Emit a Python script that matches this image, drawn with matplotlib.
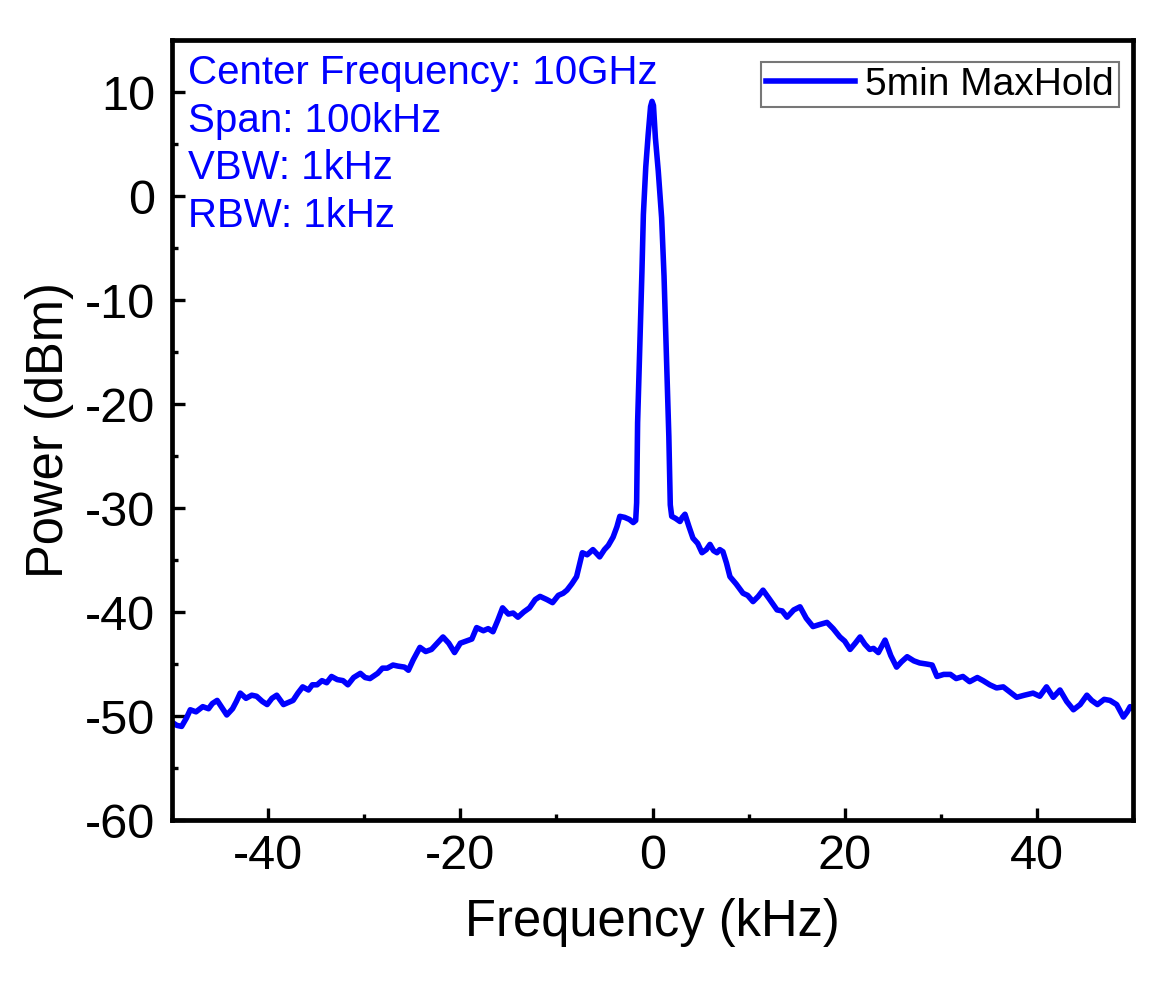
import numpy as np
import matplotlib
matplotlib.use("Agg")
import matplotlib.pyplot as plt

plt.rcParams['font.family'] = ['Liberation Sans', 'DejaVu Sans']
plt.rcParams['axes.unicode_minus'] = False

# spectrum trace (frequency in kHz, power in dBm)
freq_khz = [
    -50.0, -49.5, -49.0, -48.5, -48.1, -47.5, -46.8, -46.2, -45.8, -45.3,
    -44.8, -44.3, -43.7, -43.3, -42.9, -42.3, -41.7, -41.2, -40.6, -40.1,
    -39.6, -39.1, -38.4, -37.9, -37.4, -36.9, -36.4, -35.8, -35.4, -34.9,
    -34.4, -33.9, -33.4, -32.8, -32.2, -31.7, -31.1, -30.4, -29.9, -29.4,
    -28.6, -28.1, -27.6, -27.0, -26.5, -25.8, -25.4, -24.9, -24.2, -23.6,
    -23.0, -22.4, -21.8, -21.2, -20.6, -20.0, -19.4, -18.8, -18.3, -17.6,
    -17.1, -16.6, -16.1, -15.6, -15.0, -14.5, -14.0, -13.4, -12.8, -12.2,
    -11.7, -11.0, -10.4, -9.8, -9.3, -8.9, -8.4, -7.9, -7.3, -6.8,
    -6.2, -5.8, -5.5, -5.0, -4.6, -4.1, -3.7, -3.4, -2.9, -2.4,
    -2.0, -1.75, -1.65, -1.55, -1.3, -1.1, -0.95, -0.7, -0.45, -0.2,
    -0.05, 0.1, 0.3, 0.6, 0.95, 1.2, 1.45, 1.7, 1.85, 2.0,
    2.4, 2.86, 3.1, 3.38, 3.8, 4.21, 4.7, 5.15, 5.6, 5.98,
    6.35, 6.71, 7.0, 7.33, 7.7, 8.06, 8.7, 9.42, 9.9, 10.46,
    11.0, 11.5, 12.2, 12.96, 13.5, 14.0, 14.7, 15.35, 16.0, 16.7,
    17.4, 18.16, 18.8, 19.5, 20.0, 20.56, 21.1, 21.6, 22.1, 22.6,
    23.0, 23.5, 24.2, 24.8, 25.4, 25.9, 26.5, 27.2, 27.8, 28.5,
    29.1, 29.6, 30.3, 31.0, 31.6, 32.3, 33.0, 33.8, 34.4, 35.1,
    35.8, 36.5, 37.2, 37.9, 38.7, 39.6, 40.3, 41.0, 41.7, 42.4,
    43.1, 43.8, 44.5, 45.2, 45.7, 46.3, 47.0, 47.6, 48.3, 49.0,
    49.4, 49.7, 50.0,
]
power_dbm = [
    -50.6, -50.9, -51.0, -50.2, -49.4, -49.6, -49.1, -49.3, -48.8, -48.5,
    -49.2, -49.9, -49.3, -48.6, -47.8, -48.3, -48.0, -48.1, -48.6, -48.9,
    -48.3, -48.0, -48.9, -48.7, -48.5, -47.8, -47.2, -47.5, -47.0, -47.0,
    -46.6, -46.8, -46.2, -46.5, -46.6, -47.0, -46.3, -45.9, -46.3, -46.4,
    -45.9, -45.4, -45.4, -45.1, -45.2, -45.3, -45.6, -44.6, -43.4, -43.8,
    -43.6, -43.0, -42.4, -43.0, -43.9, -43.0, -42.8, -42.6, -41.5, -41.8,
    -41.6, -41.9, -40.8, -39.6, -40.2, -40.1, -40.5, -40.0, -39.6, -38.8,
    -38.5, -38.8, -39.1, -38.4, -38.2, -37.9, -37.3, -36.6, -34.3, -34.5,
    -34.0, -34.4, -34.7, -34.0, -33.6, -32.8, -31.8, -30.8, -30.9, -31.1,
    -31.4, -31.2, -29.5, -21.8, -13.8, -7.3, -1.8, 2.8, 5.9, 8.6,
    9.1, 8.7, 5.6, 2.4, -2.1, -7.7, -15.4, -23.1, -29.7, -30.8,
    -31.0, -31.3, -30.9, -30.6, -31.8, -32.9, -33.4, -34.3, -34.0, -33.5,
    -34.1, -34.3, -34.0, -34.2, -35.3, -36.6, -37.3, -38.2, -38.4, -39.0,
    -38.5, -37.9, -38.8, -39.8, -39.9, -40.5, -39.8, -39.5, -40.6, -41.4,
    -41.2, -41.0, -41.6, -42.4, -42.8, -43.6, -43.0, -42.4, -43.1, -43.6,
    -43.5, -43.9, -42.7, -44.2, -45.3, -44.8, -44.3, -44.7, -44.9, -45.0,
    -45.1, -46.2, -46.0, -46.0, -46.4, -46.2, -46.7, -46.3, -46.6, -47.0,
    -47.3, -47.2, -47.7, -48.2, -48.0, -47.8, -48.1, -47.2, -48.2, -47.5,
    -48.6, -49.4, -48.9, -48.0, -48.5, -48.9, -48.4, -48.5, -48.9, -50.1,
    -49.6, -49.1, -49.3,
]

x_ticks = [-40, -20, 0, 20, 40]
y_ticks = [-60, -50, -40, -30, -20, -10, 0, 10]
info_lines = ["Center Frequency: 10GHz", "Span: 100kHz", "VBW: 1kHz", "RBW: 1kHz"]
legend_label = "5min MaxHold"

fig = plt.figure(figsize=(11.67, 9.96), dpi=100)
ax = fig.add_axes([172 / 1167, 1 - 820 / 996, 961 / 1167, 780 / 996])

ax.plot(freq_khz, power_dbm, color='#0000FF', lw=4, label=legend_label)

ax.set_xlim(-50, 50)
ax.set_ylim(-60, 15)
ax.set_xticks(x_ticks)
ax.set_yticks(y_ticks)
ax.set_xticks(np.arange(-50, 51, 10), minor=True)
ax.set_yticks(np.arange(-55, 15, 10), minor=True)
ax.tick_params(which='both', direction='in', top=False, right=False,
               labelsize=35, width=2.4)
ax.tick_params(which='major', length=9)
ax.tick_params(which='minor', length=4.5)
ax.tick_params(axis='y', pad=12)
ax.tick_params(axis='x', pad=10)
for sp in ax.spines.values():
    sp.set_linewidth(3.4)

ax.set_xlabel("Frequency (kHz)", fontsize=36.5, labelpad=14)
ax.set_ylabel("Power (dBm)", fontsize=36.5, labelpad=8)

ax.text(0.017, 0.982, "\n".join(info_lines), transform=ax.transAxes,
        color='#0000FF', fontsize=29, va='top', ha='left', linespacing=1.32)

leg = ax.legend(loc='upper right', bbox_to_anchor=(0.985, 0.972),
                fontsize=28, frameon=True, fancybox=False, borderaxespad=0,
                handlelength=2.3, handletextpad=0.25, borderpad=0.12)
leg.get_frame().set_edgecolor('#555555')
leg.get_frame().set_linewidth(1.5)

fig.savefig("out.png", dpi=100)
